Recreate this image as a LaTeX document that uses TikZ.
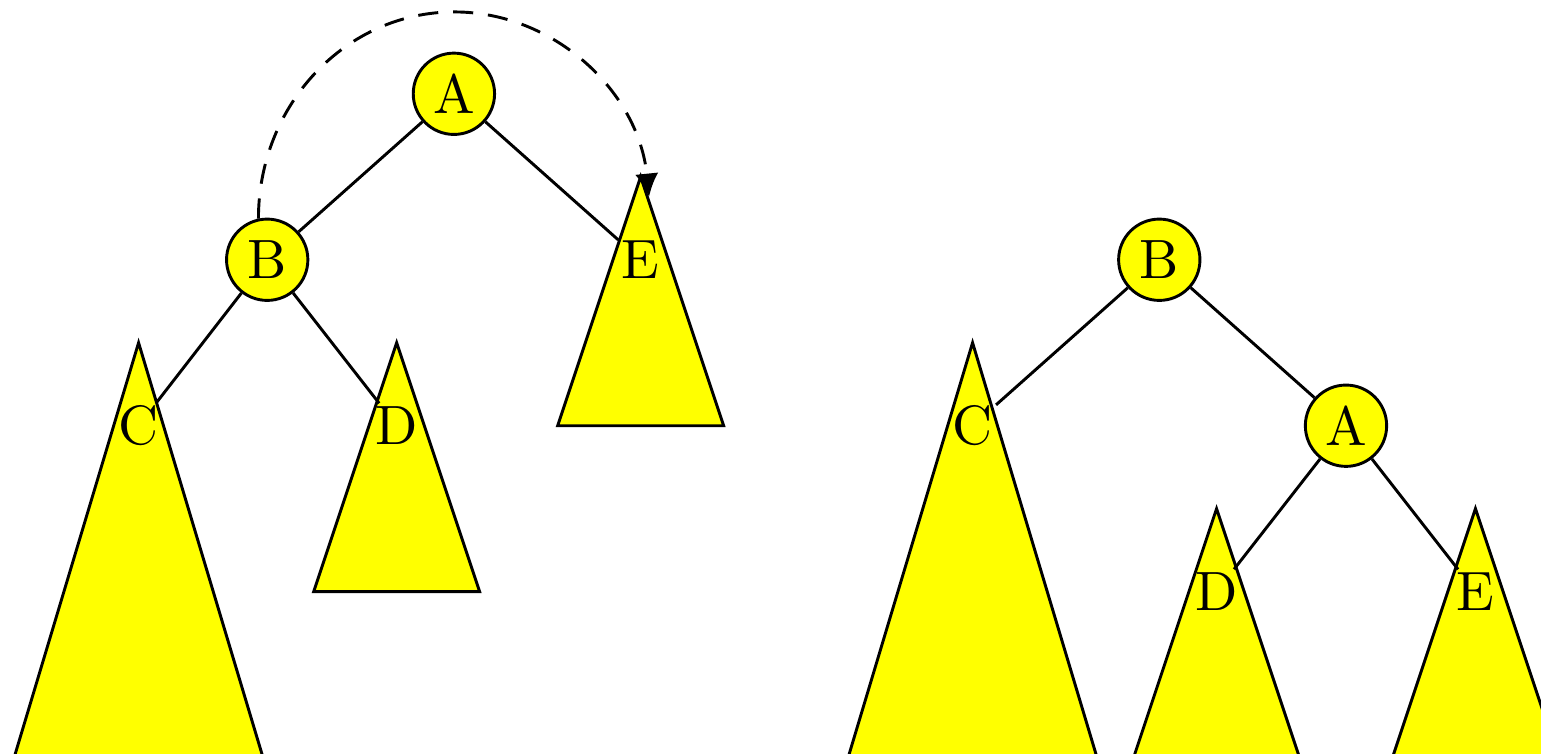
\documentclass[tikz,border=0pt]{standalone}
\usepackage{fontspec}
\newfontfamily\treefont{lmroman10-regular.otf}
\usetikzlibrary{arrows.meta}
\definecolor{treeyellow}{RGB}{255,255,0}
\begin{document}
\begin{tikzpicture}[line join=miter,>={Latex[length=8pt,width=8pt]},
  every node/.style={font=\treefont\fontsize{19}{23}\selectfont},
  vertex/.style={circle,draw,fill=treeyellow,line width=1pt,minimum size=0.98cm,inner sep=0pt},
  leaf/.style={inner sep=1pt},
  subtree/.style={draw,fill=treeyellow,line width=1pt},
  link/.style={line width=1pt}]
  \useasboundingbox (-5.47,1.13) rectangle (13.10,-7.95);
  \clip (-5.47,1.13) rectangle (13.10,-7.95);
  % subtrees
  \foreach \x/\y/\w/\d in {-3.8/-4/1.5/4,-0.69/-4/1/2,2.25/-2/1/2,6.25/-4/1.5/4,9.19/-6/1/2,12.31/-6/1/2}
    \draw[subtree] ({\x},{\y+1}) -- ({\x-\w},{\y-\d}) -- ({\x+\w},{\y-\d}) -- cycle;
  % before the rotation
  \node[vertex] (A) at (0,0) {A};
  \node[vertex] (B) at (-2.25,-2) {B};
  \node[leaf] (C) at (-3.8,-4) {C};
  \node[leaf] (D) at (-0.69,-4) {D};
  \node[leaf] (E) at (2.25,-2) {E};
  \draw[link] (A) -- (B);
  \draw[link] (A) -- (E);
  \draw[link] (B) -- (C);
  \draw[link] (B) -- (D);
  \draw[link,dash pattern=on 6.9pt off 5.1pt,->] (B.102) arc[start angle=180,end angle=6,x radius=2.36,y radius=2.49];
  % after the rotation
  \node[vertex] (B2) at (8.5,-2) {B};
  \node[vertex] (A2) at (10.75,-4) {A};
  \node[leaf] (C2) at (6.25,-4) {C};
  \node[leaf] (D2) at (9.19,-6) {D};
  \node[leaf] (E2) at (12.31,-6) {E};
  \draw[link] (B2) -- (C2);
  \draw[link] (B2) -- (A2);
  \draw[link] (A2) -- (D2);
  \draw[link] (A2) -- (E2);
\end{tikzpicture}
\end{document}
